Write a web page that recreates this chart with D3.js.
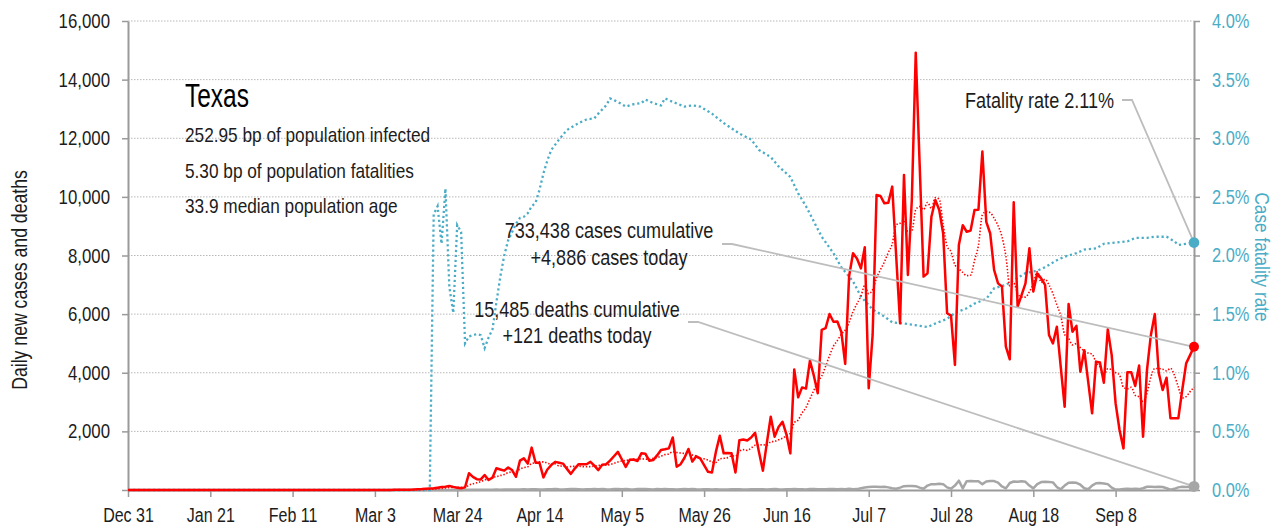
<!DOCTYPE html>
<html>
<head>
<meta charset="utf-8">
<title>Texas daily cases</title>
<script src="https://d3js.org/d3.v7.min.js"></script>
<style>
  body { margin: 0; background: #fff; }
  svg text { font-family: "Liberation Sans", Arial, sans-serif; }
</style>
</head>
<body>
<script>
// ---- data (one value per day, starting Dec 31 2019) ----
const startDate = "2019-12-31";

const dailyCases = [
  0, 0, 0, 0, 0, 0, 0, 0, 0, 0, 0, 0, 0, 0, 0, 0,
  0, 0, 0, 0, 0, 0, 0, 0, 0, 0, 0, 0, 0, 0, 0, 0,
  0, 0, 0, 0, 0, 0, 0, 0, 0, 0, 0, 0, 0, 0, 0, 0,
  0, 0, 0, 0, 0, 0, 0, 0, 0, 0, 0, 0, 0, 0, 0, 0,
  1, 0, 2, 3, 5, 5, 8, 10, 12, 20, 25, 30, 40, 50, 60, 80,
  100, 110, 140, 100, 80, 60, 90, 570, 450, 370, 360, 510, 340, 420, 740, 700, 660, 770, 680, 450,
  1000, 1080, 900, 1445, 930, 930, 430, 700, 850, 960, 930, 900, 720, 550, 730, 880, 880, 880, 960, 830,
  680, 860, 880, 1000, 1150, 1300, 1050, 790, 1030, 1040, 990, 1250, 1240, 1000, 1020, 1180, 1365, 1390, 1420, 1790,
  795, 880, 1100, 1400, 970, 1150, 1080, 850, 620, 600, 1300, 1850, 1250, 1260, 1250, 600, 1700, 1720, 1690, 1790,
  1950, 1300, 660, 1600, 2500, 1820, 2150, 2330, 1900, 1250, 4115, 3160, 3500, 3460, 4415, 3900, 3300, 5460, 5520, 6005,
  5740, 5750, 5400, 4300, 7300, 8075, 7900, 7560, 8280, 3470, 5290, 10065, 10030, 9780, 9800, 10350, 8000, 5690, 10750, 7335,
  9895, 14920, 11100, 7280, 7390, 9325, 9895, 9550, 8750, 6030, 5950, 4265, 8360, 9035, 8810, 8850, 9555, 9560, 11545, 9150,
  8750, 7505, 7050, 6940, 4890, 4460, 9815, 6255, 6650, 7050, 8245, 6770, 7390, 7220, 7000, 5290, 5000, 5570, 4200, 2840,
  6345, 5400, 5600, 4035, 4770, 3700, 2615, 4380, 4350, 3660, 5480, 4600, 2955, 2045, 1420, 4015, 4015, 3550, 4245, 1820,
  4090, 5290, 6005, 4000, 3410, 3830, 2445, 2445, 2445, 3410, 4320, 4600, 4886
];

const dailyDeaths = [
  0, 0, 0, 0, 0, 0, 0, 0, 0, 0, 0, 0, 0, 0, 0, 0,
  0, 0, 0, 0, 0, 0, 0, 0, 0, 0, 0, 0, 0, 0, 0, 0,
  0, 0, 0, 0, 0, 0, 0, 0, 0, 0, 0, 0, 0, 0, 0, 0,
  0, 0, 0, 0, 0, 0, 0, 0, 0, 0, 0, 0, 0, 0, 0, 0,
  0, 0, 0, 0, 0, 0, 0, 0, 0, 0, 0, 0, 0,
  1, 0, 1, 2, 1, 3, 2, 4, 3, 5, 5, 6, 8, 7, 9, 11, 12, 14, 10, 13, 17, 15, 18, 20,
  22, 19, 25, 24, 17, 21, 26, 28, 30, 22, 20, 27, 31, 33, 25, 18, 24, 29, 32, 27, 35, 23, 20, 30, 34, 28, 38, 26, 21, 33,
  36, 30, 25, 18, 31, 28, 33, 29, 24, 17, 27, 30, 26, 31, 22, 16, 25, 28, 20, 24, 19, 14, 21, 26, 23, 27, 20, 15, 22, 25,
  28, 24, 19, 26, 30, 22, 18, 25, 27, 33, 29, 24, 20, 31, 35, 28, 26, 22, 30, 38,
  25, 30, 25, 40, 25, 30, 60, 85, 100, 110,
  115, 105, 110, 90, 60, 45, 80, 130, 135, 140,
  130, 80, 45, 150, 200, 195, 210, 200, 90, 45,
  150, 318, 55, 300, 305, 295, 300, 200, 290, 310,
  305, 250, 120, 55, 240, 290, 285, 300, 280, 150,
  55, 200, 270, 280, 275, 260, 100, 25, 150, 250,
  255, 245, 180, 60, 25, 150, 230, 235, 225, 200,
  80, 15, 20, 30, 40, 35, 40, 30, 60, 110,
  115, 105, 110, 100, 60, 10, 40, 90, 110, 105,
  115, 121
];

// case fatality rate (%), read at these day offsets
const cfrDays = [0, 77, 78, 79, 80, 81, 82, 83, 84, 85, 86, 87, 88, 89, 90, 91, 92, 93, 94, 95, 96, 97, 98, 99,
  100, 101, 102, 103, 104, 105, 106, 107, 108, 110, 112, 114, 115, 117, 119, 120, 122, 123, 125, 127, 129,
  131, 132, 134, 136, 137, 139, 142, 144, 146, 149, 152, 156, 159, 161, 164, 166, 169, 171, 173, 175, 177,
  180, 182, 185, 187, 190, 193, 195, 198, 200, 204, 206, 209, 211, 214, 216, 219, 221, 224, 227, 229, 232,
  234, 237, 239, 242, 244, 247, 249, 252, 255, 257, 260, 262, 265, 266, 267, 268, 270, 272];
const cfrRates = [0, 0, 2.35, 2.42, 2.10, 2.57, 1.73, 1.51, 2.26, 2.20, 1.25, 1.31, 1.32, 1.33, 1.32, 1.21, 1.30, 1.37, 1.60, 1.82, 2.00, 2.13, 2.20, 2.27,
  2.32, 2.33, 2.36, 2.42, 2.45, 2.56, 2.70, 2.81, 2.90, 2.99, 3.07, 3.11, 3.13, 3.16, 3.17, 3.21, 3.28, 3.34, 3.31, 3.27, 3.29,
  3.30, 3.33, 3.30, 3.28, 3.34, 3.31, 3.27, 3.28, 3.27, 3.21, 3.13, 3.04, 2.99, 2.90, 2.84, 2.76, 2.67, 2.53, 2.42, 2.29, 2.16,
  2.02, 1.90, 1.78, 1.65, 1.54, 1.48, 1.43, 1.42, 1.41, 1.39, 1.42, 1.46, 1.51, 1.55, 1.59, 1.63, 1.72, 1.75, 1.81, 1.85, 1.87,
  1.90, 1.96, 1.99, 2.02, 2.05, 2.06, 2.10, 2.11, 2.12, 2.15, 2.15, 2.16, 2.16, 2.14, 2.12, 2.09, 2.10, 2.11];

const tickDates = ["2019-12-31", "2020-01-21", "2020-02-11", "2020-03-03", "2020-03-24", "2020-04-14", "2020-05-05",
  "2020-05-26", "2020-06-16", "2020-07-07", "2020-07-28", "2020-08-18", "2020-09-08"];
const caseTicks = [0, 2000, 4000, 6000, 8000, 10000, 12000, 14000, 16000];
const rateTicks = [0, 0.5, 1, 1.5, 2, 2.5, 3, 3.5, 4];

const stateName = "Texas";
const infoLines = ["252.95 bp of population infected", "5.30 bp of population fatalities", "33.9 median population age"];
const caseNote = ["733,438 cases cumulative", "+4,886 cases today"];
const deathNote = ["15,485 deaths cumulative", "+121 deaths today"];
const rateNote = "Fatality rate 2.11%";

// ---- layout ----
const width = 1275, height = 527;
const plotLeft = 128, plotRight = 1194, plotTop = 21, plotBottom = 490;
const teal = "#4bacc6", red = "#ff0000", grey = "#a6a6a6", axisGrey = "#9a9a9a", ink = "#1c1c1c";
const squeeze = 0.82; // no condensed face installed, so narrow the glyphs

// narrow every text in a selection to look like a condensed face
function narrow(sel) {
  sel.each(function () {
    const w = this.getComputedTextLength();
    d3.select(this).attr("textLength", w * squeeze).attr("lengthAdjust", "spacingAndGlyphs");
  });
}

const parse = d3.utcParse("%Y-%m-%d");
const t0 = parse(startDate);
const day = i => d3.utcDay.offset(t0, i);
const last = dailyCases.length - 1;

const xScale = d3.scaleUtc().domain([t0, day(last)]).range([plotLeft, plotRight]);
const yScale = d3.scaleLinear().domain([0, 16000]).range([plotBottom, plotTop]);
const rScale = d3.scaleLinear().domain([0, 4]).range([plotBottom, plotTop]);

const svg = d3.select("body").append("svg")
  .attr("width", width).attr("height", height)
  .style("background", "#fff");

// gridlines
svg.append("g").selectAll("line").data(caseTicks.slice(1)).join("line")
  .attr("x1", plotLeft).attr("x2", plotRight)
  .attr("y1", d => yScale(d)).attr("y2", d => yScale(d))
  .attr("stroke", "#b8b8b8").attr("stroke-width", 1).attr("stroke-dasharray", "1.5,1.5");

// axes
function styleAxis(g, color, size) {
  g.select(".domain").attr("stroke", axisGrey).attr("stroke-width", 2);
  g.selectAll(".tick line").attr("stroke", axisGrey).attr("stroke-width", 1.5);
  g.selectAll(".tick text").attr("fill", color).style("font-size", size + "px")
    .style("font-family", '"Liberation Sans", Arial, sans-serif').call(narrow);
}

svg.append("g").attr("transform", `translate(${plotLeft},0)`)
  .call(d3.axisLeft(yScale).tickValues(caseTicks).tickSize(6).tickSizeOuter(0).tickPadding(12)
    .tickFormat(d => d === 0 ? "" : d3.format(",")(d)))
  .call(g => styleAxis(g, ink, 20.5));

svg.append("g").attr("transform", `translate(${plotRight},0)`)
  .call(d3.axisRight(rScale).tickValues(rateTicks).tickSize(6).tickSizeOuter(0).tickPadding(12)
    .tickFormat(d => d3.format(".1f")(d) + "%"))
  .call(g => styleAxis(g, teal, 20));

svg.append("g").attr("transform", `translate(0,${plotBottom})`)
  .call(d3.axisBottom(xScale).tickValues(tickDates.map(parse)).tickSize(7).tickSizeOuter(0).tickPadding(11)
    .tickFormat(d3.utcFormat("%b %-d")))
  .call(g => styleAxis(g, ink, 19.5));

// axis titles
svg.append("text")
  .attr("transform", "translate(27,280) rotate(-90)")
  .attr("text-anchor", "middle").attr("fill", ink).style("font-size", "21.5px")
  .text("Daily new cases and deaths").call(narrow);
svg.append("text")
  .attr("transform", "translate(1255,257) rotate(90)")
  .attr("text-anchor", "middle").attr("fill", teal).style("font-size", "21px")
  .text("Case fatality rate").call(narrow);

// series
const dayLine = d3.line().x((d, i) => xScale(day(i))).y(d => yScale(d));

svg.append("path").datum(dailyDeaths)
  .attr("d", dayLine).attr("fill", "none")
  .attr("stroke", grey).attr("stroke-width", 2.5).attr("stroke-linejoin", "round");

const cfrLine = d3.line().x(d => xScale(day(d[0]))).y(d => rScale(d[1]));
svg.append("path").datum(cfrDays.map((d, i) => [d, cfrRates[i]]))
  .attr("d", cfrLine).attr("fill", "none")
  .attr("stroke", teal).attr("stroke-width", 2.3).attr("stroke-dasharray", "2.2,2.8");

// trailing 7-day average of daily cases
const avg7 = dailyCases.map((d, i) => d3.mean(dailyCases.slice(Math.max(0, i - 6), i + 1)));
svg.append("path").datum(avg7)
  .attr("d", dayLine.curve(d3.curveMonotoneX)).attr("fill", "none")
  .attr("stroke", red).attr("stroke-width", 1.6).attr("stroke-dasharray", "1.4,1.8");
dayLine.curve(d3.curveLinear);

svg.append("path").datum(dailyCases)
  .attr("d", dayLine).attr("fill", "none")
  .attr("stroke", red).attr("stroke-width", 2.5).attr("stroke-linejoin", "round");

// end points
const xEnd = xScale(day(last));
const endCase = yScale(dailyCases[last]);
const endDeath = yScale(dailyDeaths[last]);
const endRate = rScale(cfrRates[cfrRates.length - 1]);

// leader lines
const leader = (x0, y0, y1) => `M${x0},${y0}H${x0 + 10}L${xEnd},${y1}`;
const leaders = [[1122, 100, endRate], [722, 244, endCase], [688, 322, endDeath]];
svg.append("g").selectAll("path").data(leaders).join("path")
  .attr("d", d => leader(d[0], d[1], d[2]))
  .attr("fill", "none").attr("stroke", "#bdbdbd").attr("stroke-width", 1.8);

svg.append("circle").attr("cx", xEnd).attr("cy", endDeath).attr("r", 5.5).attr("fill", grey);
svg.append("circle").attr("cx", xEnd).attr("cy", endCase).attr("r", 5).attr("fill", red);
svg.append("circle").attr("cx", xEnd).attr("cy", endRate).attr("r", 5.3).attr("fill", teal);

// annotations
svg.append("text").attr("x", 185).attr("y", 107).attr("fill", "#000")
  .attr("textLength", 64).attr("lengthAdjust", "spacingAndGlyphs")
  .style("font-size", "33px").text(stateName);

svg.append("g").selectAll("text").data(infoLines).join("text")
  .attr("x", 185).attr("y", (d, i) => 142 + i * 35.7)
  .attr("fill", ink).style("font-size", "21px").text(d => d).call(narrow);

svg.append("g").selectAll("text").data(caseNote).join("text")
  .attr("x", 609).attr("y", (d, i) => 238 + i * 27)
  .attr("text-anchor", "middle").attr("fill", ink).style("font-size", "22px").text(d => d).call(narrow);

svg.append("g").selectAll("text").data(deathNote).join("text")
  .attr("x", 577).attr("y", (d, i) => 316.5 + i * 26.5)
  .attr("text-anchor", "middle").attr("fill", ink).style("font-size", "22px").text(d => d).call(narrow);

svg.append("text").attr("x", 1114).attr("y", 108).attr("text-anchor", "end")
  .attr("fill", ink).style("font-size", "22px").text(rateNote).call(narrow);
</script>
</body>
</html>
